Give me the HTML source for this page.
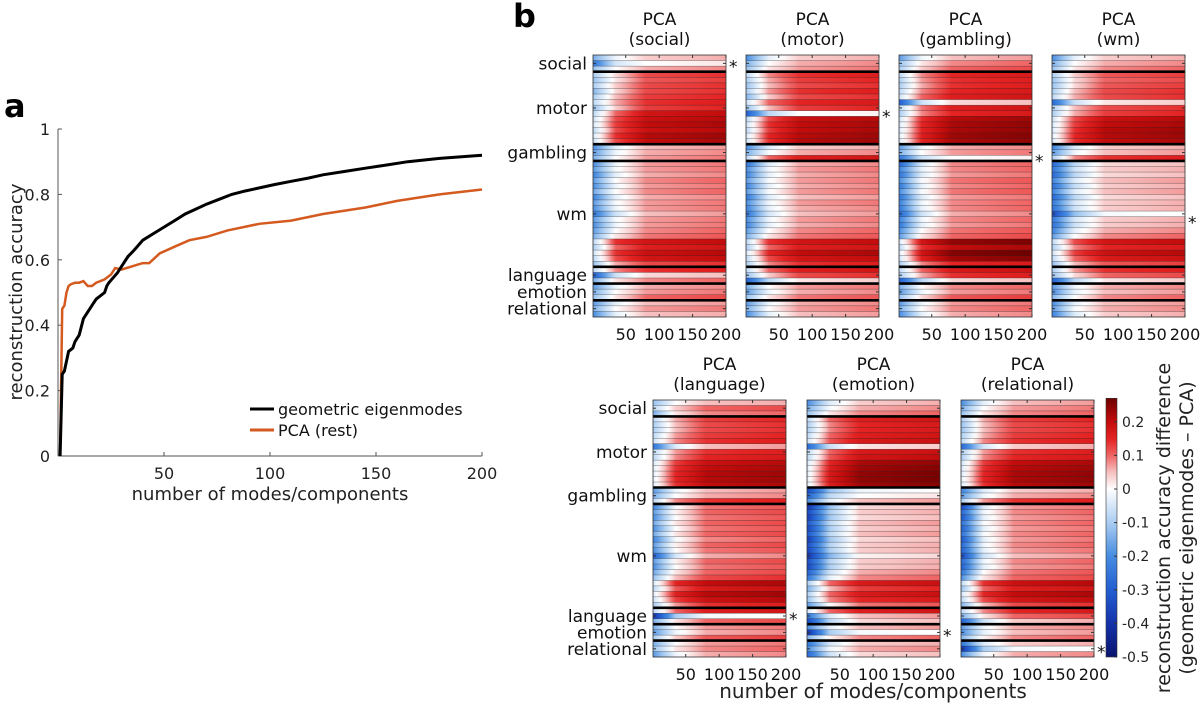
<!DOCTYPE html>
<html><head><meta charset="utf-8"><style>
html,body{margin:0;padding:0;background:#fff;}
svg{display:block;font-family:"DejaVu Sans","Liberation Sans",sans-serif;}
</style></head><body>
<svg id="fig" width="1200" height="708" viewBox="0 0 1200 708">
<defs id="defs"></defs>
<text x="4" y="117" font-size="32" font-weight="bold">a</text>
<text x="513" y="27" font-size="32" font-weight="bold">b</text>
<g id="pa"></g>
<g id="pb"></g>
</svg>
<script>
// ---------- Panel a data ----------
const geoX = [1,2,3,4,5,7,8,10,12,14,16,18,20,22,23,24,26,28,30,33,36,40,45,50,55,60,65,70,76,82,88,95,102,110,118,125,135,145,155,165,180,200];
const geoY = [0.0,0.25,0.26,0.29,0.32,0.33,0.35,0.37,0.42,0.44,0.46,0.48,0.49,0.50,0.52,0.53,0.545,0.56,0.58,0.61,0.63,0.66,0.68,0.70,0.72,0.74,0.755,0.77,0.785,0.80,0.81,0.82,0.83,0.84,0.85,0.86,0.87,0.88,0.89,0.90,0.91,0.92];
const pcaX = [1,2,3,4,5,6,8,10,12,14,16,18,22,25,27,30,35,40,43,48,55,62,70,80,95,110,125,145,160,180,200];
const pcaY = [0.0,0.45,0.46,0.50,0.52,0.525,0.53,0.53,0.535,0.52,0.52,0.53,0.54,0.555,0.575,0.57,0.58,0.59,0.59,0.62,0.64,0.66,0.67,0.69,0.71,0.72,0.74,0.76,0.78,0.80,0.815];
const aYTicks = [0,0.2,0.4,0.6,0.8,1];
const aYTickLabels = ['0','0.2','0.4','0.6','0.8','1'];
const aXTicks = [50,100,150,200];

// ---------- Panel b data ----------
const panelTasks = ['social','motor','gambling','wm','language','emotion','relational'];
const rowLabels = ['social','motor','gambling','wm','language','emotion','relational'];
const blockSizes = [3,13,3,19,3,3,3];
const xStops = [1,35,80,200];
const starRows = [1,10,18,29,39,42,45];
const cbTicks = [0.2,0.1,0,-0.1,-0.2,-0.3,-0.4,-0.5];
const hmXTicks = [50,100,150,200];

const rowsSocial = [[-15,-2,4,6],[-25,-5,0,2],[-12,0,6,8],
[-10,3,12,14],[-12,2,11,13],[-10,4,12,14],[-14,3,12,14],[-10,5,13,15],[-8,6,14,16],[-12,4,13,15],[-8,10,18,20],[-6,12,19,21],[-5,13,20,22],[-8,12,19,21],[-5,14,21,23],[-6,12,20,22],
[-20,-3,5,7],[-18,-2,6,8],[-15,0,7,9],
[-20,-2,7,9],[-18,-1,7,9],[-22,-3,6,8],[-18,0,8,10],[-20,-2,7,9],[-16,0,8,10],[-22,-3,6,8],[-18,-1,7,9],[-20,-2,7,9],[-25,-6,5,7],[-18,-1,7,9],[-20,-2,7,9],[-18,0,8,10],[-15,2,9,11],[-8,14,18,20],[-10,10,16,18],[-6,14,19,21],[-8,12,18,20],[-12,6,12,14],
[-8,8,14,16],[-30,-6,3,5],[-15,2,8,10],
[-18,-2,6,8],[-15,0,7,9],[-12,2,10,12],
[-18,-3,5,7],[-15,0,7,9],[-20,-3,5,6]];
const rowsMotor = [[-20,-3,4,6],[-15,0,6,8],[-12,2,7,9],
[-8,8,14,16],[-10,6,13,15],[-12,5,12,14],[-10,7,14,16],[-14,4,12,14],[-6,10,15,17],[-12,5,13,15],[-30,-8,0,1],[-8,12,19,21],[-6,14,20,22],[-8,13,20,22],[-5,15,21,23],[-6,14,21,23],
[-20,-4,4,6],[-15,-1,6,8],[-8,10,16,18],
[-25,-4,6,8],[-20,-2,7,9],[-22,-3,6,8],[-18,-1,7,9],[-22,-3,6,8],[-18,-1,7,9],[-24,-4,5,7],[-20,-2,7,9],[-22,-3,6,8],[-25,-5,5,7],[-20,-2,7,9],[-22,-3,6,8],[-18,0,8,10],[-15,2,9,11],[-8,14,18,20],[-10,10,16,18],[-5,15,20,22],[-8,12,18,20],[-10,8,14,16],
[-8,10,16,18],[-12,4,12,14],[-30,-8,2,4],
[-15,0,7,9],[-18,-2,6,8],[-12,2,9,11],
[-18,-2,6,8],[-15,0,7,9],[-20,-3,5,7]];
const rowsGambling = [[-18,-2,5,7],[-12,2,8,10],[-10,4,10,12],
[-8,8,15,17],[-10,7,14,16],[-10,6,14,16],[-8,8,15,17],[-6,10,16,18],[-30,-6,3,5],[-8,9,16,18],[-10,8,15,17],[-6,14,21,23],[-5,15,22,24],[-5,15,22,24],[-4,16,23,25],[-5,15,22,24],
[-18,-2,6,8],[-15,0,7,9],[-25,-6,0,1],
[-28,-5,8,10],[-22,-3,8,10],[-25,-4,7,9],[-20,-1,9,11],[-24,-3,8,10],[-20,-1,9,11],[-25,-4,7,9],[-22,-2,8,10],[-24,-3,8,10],[-28,-6,6,8],[-22,-2,8,10],[-24,-3,7,9],[-20,0,9,11],[-18,2,10,12],[-5,18,24,26],[-8,14,20,22],[-4,18,25,27],[-6,16,23,25],[-10,8,15,17],
[-8,10,17,19],[-10,6,14,16],[-30,-8,3,5],
[-15,0,8,10],[-18,-2,7,9],[-12,3,11,13],
[-18,-2,7,9],[-15,0,8,10],[-20,-3,6,8]];
const rowsWm = [[-20,-3,4,6],[-15,0,6,8],[-12,2,8,10],
[-10,4,11,13],[-12,3,10,12],[-12,3,11,13],[-10,5,12,14],[-8,6,12,14],[-28,-6,2,4],[-10,5,12,14],[-10,6,13,15],[-6,12,19,21],[-5,13,20,22],[-5,14,21,23],[-4,15,21,23],[-5,14,20,22],
[-22,-4,4,6],[-18,-2,5,7],[-10,8,14,16],
[-28,-8,3,5],[-25,-6,4,6],[-28,-8,3,5],[-22,-4,5,7],[-26,-7,4,6],[-22,-4,5,7],[-28,-8,3,5],[-24,-5,4,6],[-26,-6,4,6],[-35,-12,-1,0],[-24,-5,4,6],[-26,-6,4,6],[-22,-3,6,8],[-18,0,8,10],[-8,12,18,20],[-10,8,15,17],[-6,13,19,21],[-8,10,17,19],[-12,5,11,13],
[-10,7,14,16],[-12,3,10,12],[-30,-8,2,4],
[-18,-2,6,8],[-20,-3,5,7],[-14,0,8,10],
[-20,-3,5,7],[-18,-1,6,8],[-22,-4,4,6]];
const rowsLanguage = [[-12,0,5,6],[-8,4,10,12],[-15,2,8,10],
[-8,6,13,15],[-10,5,12,14],[-10,5,12,14],[-8,7,13,15],[-6,8,14,16],[-25,-4,5,7],[-8,7,14,16],[-8,8,15,17],[-5,13,19,21],[-4,14,20,22],[-4,15,21,23],[-3,15,21,23],[-4,14,20,22],
[-18,-2,5,7],[-15,0,6,8],[-8,8,14,16],
[-22,-1,9,11],[-18,1,10,12],[-20,0,9,11],[-16,2,10,12],[-20,0,9,11],[-16,2,10,12],[-22,-1,8,10],[-18,1,10,12],[-20,0,9,11],[-30,-5,6,8],[-18,1,10,12],[-20,0,9,11],[-16,2,10,12],[-12,5,12,14],[-5,15,20,22],[-8,11,17,19],[-4,16,21,23],[-6,13,19,21],[-10,7,14,16],
[-8,10,16,18],[-40,-10,-1,0],[-15,2,10,12],
[-15,0,7,9],[-18,-2,6,8],[-10,4,11,13],
[-15,0,7,9],[-12,2,8,10],[-18,-2,6,8]];
const rowsEmotion = [[-20,-4,4,6],[-15,-1,6,8],[-12,2,8,10],
[-8,10,16,18],[-10,8,15,17],[-10,8,15,17],[-8,10,16,18],[-6,11,17,19],[-28,-6,2,4],[-8,10,17,19],[-8,11,18,20],[-5,15,22,24],[-4,16,23,25],[-4,17,24,26],[-3,17,24,26],[-4,16,23,25],
[-35,-12,-2,0],[-30,-8,0,2],[-20,-3,5,7],
[-40,-12,3,5],[-35,-10,4,6],[-38,-11,3,5],[-32,-8,5,7],[-36,-10,4,6],[-32,-8,5,7],[-38,-11,3,5],[-34,-9,4,6],[-36,-10,4,6],[-40,-14,1,3],[-34,-9,4,6],[-36,-10,4,6],[-30,-6,6,8],[-25,-3,8,10],[-10,10,17,19],[-15,5,13,15],[-10,10,17,19],[-12,8,15,17],[-18,0,9,11],
[-5,10,16,18],[-25,-4,5,7],[-35,-8,3,5],
[-20,-3,5,7],[-40,-10,-1,0],[-14,1,8,10],
[-25,-5,4,6],[-20,-2,6,8],[-28,-6,3,5]];
const rowsRelational = [[-20,-3,5,7],[-15,0,7,9],[-12,2,8,10],
[-10,6,13,15],[-12,5,12,14],[-12,5,12,14],[-10,6,13,15],[-8,8,14,16],[-28,-5,4,6],[-10,7,14,16],[-10,8,15,17],[-6,13,20,22],[-5,14,21,23],[-5,15,22,24],[-4,15,22,24],[-5,14,21,23],
[-22,-4,4,6],[-18,-2,6,8],[-10,7,14,16],
[-35,-4,7,9],[-28,-2,8,10],[-32,-3,7,9],[-26,-1,8,10],[-30,-3,7,9],[-26,-1,8,10],[-32,-3,7,9],[-28,-2,8,10],[-30,-3,7,9],[-35,-6,5,7],[-28,-2,8,10],[-30,-3,7,9],[-25,0,9,11],[-20,2,10,12],[-8,14,19,21],[-12,10,16,18],[-6,15,20,22],[-8,12,18,20],[-14,5,12,14],
[-8,8,15,17],[-15,2,10,12],[-30,-6,4,6],
[-18,-2,6,8],[-20,-3,5,7],[-14,1,8,10],
[-25,-4,4,6],[-40,-10,-1,0],[-20,-2,6,8]];
const panelRows = [rowsSocial,rowsMotor,rowsGambling,rowsWm,rowsLanguage,rowsEmotion,rowsRelational];

const NS='http://www.w3.org/2000/svg';
function mk(tag, attrs, parent){const e=document.createElementNS(NS,tag);for(const k in attrs)e.setAttribute(k,attrs[k]);if(parent)parent.appendChild(e);return e;}

// ---- Panel a ----
const pa=document.getElementById('pa');
const ax0=58, ax1=482, ay0=456, ay1=129;
const sx=v=>ax0+(v/200)*(ax1-ax0);
const sy=v=>ay0-v*(ay0-ay1);
let e;
e=mk('line',{x1:ax0,y1:ay0,x2:ax0,y2:ay1,stroke:'#555','stroke-width':1},pa);


e=mk('line',{x1:ax0,y1:ay0,x2:ax1,y2:ay0,stroke:'#555','stroke-width':1},pa);


aYTicks.forEach((t,i)=>{
  mk('line',{x1:ax0,y1:sy(t),x2:ax0+4,y2:sy(t),stroke:'#555'},pa);
  const tx=mk('text',{x:ax0-8,y:sy(t)+6,'font-size':16,'text-anchor':'end',fill:'#222'},pa);
  tx.textContent=aYTickLabels[i];
  
  
});
aXTicks.forEach(t=>{
  mk('line',{x1:sx(t),y1:ay0,x2:sx(t),y2:ay0-4,stroke:'#555'},pa);
  const tx=mk('text',{x:sx(t),y:ay0+23,'font-size':16,'text-anchor':'middle',fill:'#222'},pa);
  tx.textContent=t;
  
  
});
e=mk('text',{x:270,y:500,'font-size':18,'text-anchor':'middle',fill:'#222'},pa);
e.textContent='number of modes/components';


e=mk('text',{x:0,y:0,'font-size':18,'text-anchor':'middle',fill:'#222',transform:'translate(22,292) rotate(-90)'},pa);
e.textContent='reconstruction accuracy';


function linePath(xs,ys){return xs.map((x,i)=>(i?'L':'M')+sx(x).toFixed(1)+','+sy(ys[i]).toFixed(1)).join('');}
e=mk('path',{d:linePath(pcaX,pcaY),fill:'none',stroke:'#d45a1f','stroke-width':2.5},pa);


e=mk('path',{d:linePath(geoX,geoY),fill:'none',stroke:'#000','stroke-width':3},pa);


e=mk('line',{x1:250,y1:409,x2:274,y2:409,stroke:'#000','stroke-width':3},pa);


e=mk('text',{x:278,y:415,'font-size':16,fill:'#111'},pa);
e.textContent='geometric eigenmodes';


e=mk('line',{x1:250,y1:430,x2:274,y2:430,stroke:'#d45a1f','stroke-width':3},pa);


e=mk('text',{x:278,y:436,'font-size':16,fill:'#111'},pa);
e.textContent='PCA (rest)';



// ---- Panel b ----
const cmV=[-0.5,-0.4,-0.3,-0.2,-0.1,0,0.05,0.1,0.15,0.2,0.27];
const cmC=[[10,20,110],[20,50,170],[35,95,210],[70,140,225],[170,205,242],[255,255,255],[247,192,192],[239,100,100],[228,35,35],[195,12,12],[110,0,0]];
function cmap(v){
  if(v<=cmV[0])return cmC[0];
  for(let i=1;i<cmV.length;i++){if(v<=cmV[i]){const t=(v-cmV[i-1])/(cmV[i]-cmV[i-1]);return cmC[i-1].map((c,j)=>Math.round(c+t*(cmC[i][j]-c)));}}
  return cmC[cmC.length-1];
}
const rgb=c=>'rgb('+c.join(',')+')';
const defs=document.getElementById('defs');
const pb=document.getElementById('pb');
const geom=[
 {x:593,y0:55,y1:317},{x:746,y0:55,y1:317},{x:899,y0:55,y1:317},{x:1052,y0:55,y1:317},
 {x:653,y0:400,y1:657},{x:807,y0:400,y1:657},{x:961,y0:400,y1:657}];
const PW=133;
const nRows=blockSizes.reduce((a,b)=>a+b,0);
let gid=0;
panelTasks.forEach((task,p)=>{
  const g=geom[p], rh=(g.y1-g.y0)/nRows;
  const px=x=>g.x+(x-1)/199*PW;
  const grp=mk('g',{},pb);
  
  
  panelRows[p].forEach((vals,r)=>{
    const id='gr'+(gid++);
    const lg=mk('linearGradient',{id:id,x1:0,y1:0,x2:1,y2:0},defs);
    for(let s=0;s<xStops.length-1;s++){
      const n=6;
      for(let k=0;k<=n;k++){
        const t=k/n, xv=xStops[s]+t*(xStops[s+1]-xStops[s]), v=(vals[s]+t*(vals[s+1]-vals[s]))/100;
        mk('stop',{offset:((xv-1)/199).toFixed(4),'stop-color':rgb(cmap(v))},lg);
      }
    }
    const rc=mk('rect',{x:px(xStops[0]),y:(g.y0+r*rh).toFixed(2),width:(px(xStops[xStops.length-1])-px(xStops[0])).toFixed(2),height:(rh+0.3).toFixed(2),fill:'url(#'+id+')'},grp);
    
    
  });
  for(let r=1;r<nRows;r++){
    mk('line',{x1:g.x,x2:g.x+PW,y1:g.y0+r*rh,y2:g.y0+r*rh,stroke:'#222','stroke-width':0.5,'stroke-opacity':0.6},grp);
  }
  let acc=0;
  blockSizes.forEach((b,i)=>{
    const yc=g.y0+(acc+b/2)*rh;
    acc+=b;
    if(i<blockSizes.length-1){
      const sep=mk('line',{x1:g.x,x2:g.x+PW,y1:g.y0+acc*rh,y2:g.y0+acc*rh,stroke:'#000','stroke-width':2.6},grp);
      
      
    }
    mk('line',{x1:g.x,x2:g.x+3,y1:yc,y2:yc,stroke:'#333'},grp);
    mk('line',{x1:g.x+PW-3,x2:g.x+PW,y1:yc,y2:yc,stroke:'#333'},grp);
    if(p===0||p===4){
      const lb=mk('text',{x:g.x-6,y:yc+6,'font-size':17,'text-anchor':'end',fill:'#111'},pb);
      lb.textContent=rowLabels[i];
      
      
    }
  });
  mk('rect',{x:g.x,y:g.y0,width:PW,height:g.y1-g.y0,fill:'none',stroke:'#333','stroke-width':0.8},grp);
  hmXTicks.forEach(t=>{
    mk('line',{x1:px(t),x2:px(t),y1:g.y0,y2:g.y0+3,stroke:'#333'},grp);
    mk('line',{x1:px(t),x2:px(t),y1:g.y1,y2:g.y1-3,stroke:'#333'},grp);
    const tl=mk('text',{x:px(t),y:g.y1+23,'font-size':16,'text-anchor':'middle',fill:'#111'},pb);
    tl.textContent=t;
    
    
  });
  const cx=g.x+PW/2;
  const t1=mk('text',{x:cx,y:g.y0-30,'font-size':17,'text-anchor':'middle',fill:'#111'},pb);
  t1.textContent='PCA';
  
  
  const t2=mk('text',{x:cx,y:g.y0-10,'font-size':17,'text-anchor':'middle',fill:'#111'},pb);
  t2.textContent='('+task+')';
  
  
  const st=mk('text',{x:g.x+PW+3,y:g.y0+(starRows[p]+0.5)*rh+9,'font-size':17,fill:'#111'},pb);
  st.textContent='*';
  
  
});
e=mk('text',{x:873,y:698,'font-size':20,'text-anchor':'middle',fill:'#222'},pb);
e.textContent='number of modes/components';



// colorbar
const cbx=1106, cbw=11, cb0=489, cbPer=336;
const cy=v=>cb0-v*cbPer;
const cg=mk('linearGradient',{id:'cbg',x1:0,y1:1,x2:0,y2:0},defs);
cmV.forEach((v,i)=>mk('stop',{offset:((v+0.5)/0.77).toFixed(4),'stop-color':rgb(cmC[i])},cg));
e=mk('rect',{x:cbx,y:cy(0.27),width:cbw,height:cy(-0.5)-cy(0.27),fill:'url(#cbg)',stroke:'#333','stroke-width':0.6},pb);


cbTicks.forEach(t=>{
  mk('line',{x1:cbx+cbw-3,x2:cbx+cbw,y1:cy(t),y2:cy(t),stroke:'#333'},pb);
  const tl=mk('text',{x:cbx+cbw+5,y:cy(t)+5,'font-size':14,fill:'#222'},pb);
  tl.textContent=String(t);
  
  
});
e=mk('text',{x:0,y:0,'font-size':19,'text-anchor':'middle',fill:'#222',transform:'translate(1170,528) rotate(-90)'},pb);
e.textContent='reconstruction accuracy difference';


e=mk('text',{x:0,y:0,'font-size':19,'text-anchor':'middle',fill:'#222',transform:'translate(1193,528) rotate(-90)'},pb);
e.textContent='(geometric eigenmodes \u2013 PCA)';


</script>
</body></html>
